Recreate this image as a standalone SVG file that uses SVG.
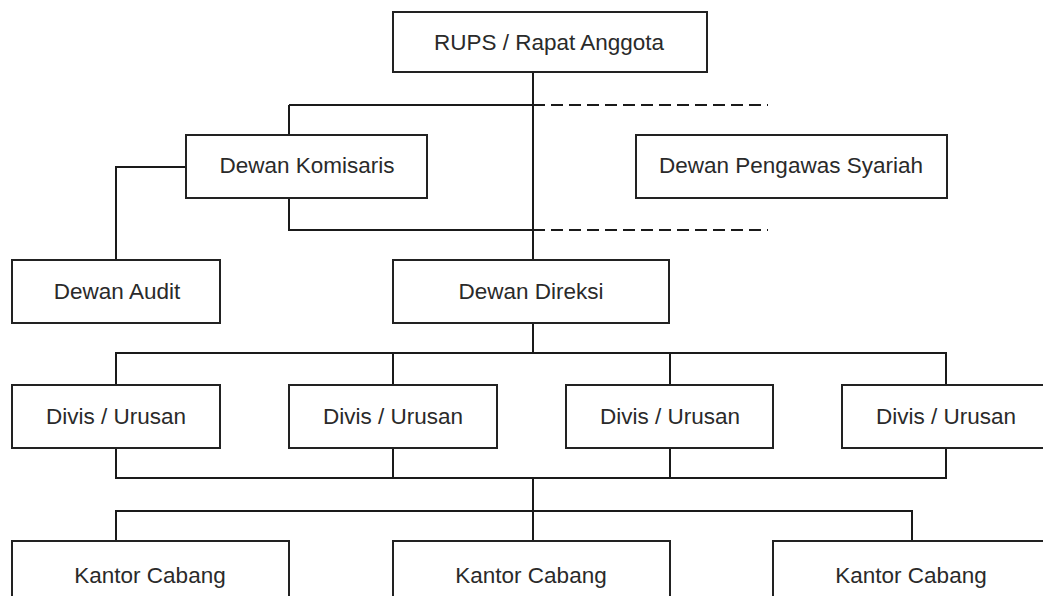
<svg xmlns="http://www.w3.org/2000/svg" width="1043" height="596" viewBox="0 0 1043 596">
<style>
.box{fill:#fff;stroke:#222;stroke-width:2}
.lbl{font-family:"Liberation Sans",Arial,sans-serif;font-size:22.5px;fill:#2a2a2a;text-anchor:middle}
.ln{fill:none;stroke:#1a1a1a;stroke-width:2}
.dash{fill:none;stroke:#1a1a1a;stroke-width:2;stroke-dasharray:12 6}
</style>
<rect width="1043" height="596" fill="#fff"/>
<g id="connectors">
<path class="ln" d="M533 72V260"/>
<path class="ln" d="M289 105H533M289 105V135"/>
<path class="dash" d="M533 105H768"/>
<path class="dash" d="M533 230H768"/>
<path class="ln" d="M289 198V230H533"/>
<path class="ln" d="M186 167H116V260"/>
<path class="ln" d="M533 323V353"/>
<path class="ln" d="M116 385V353H946V385M393 353V385M670 353V385"/>
<path class="ln" d="M116 448V478H946V448M393 448V478M670 448V478"/>
<path class="ln" d="M533 478V541"/>
<path class="ln" d="M116 541V511H912V541"/>
</g>
<g id="rups"><rect class="box" x="393" y="12" width="314" height="60"/><text class="lbl" x="549" y="50">RUPS / Rapat Anggota</text></g>
<g id="komisaris"><rect class="box" x="186" y="135" width="241" height="63"/><text class="lbl" x="307" y="173">Dewan Komisaris</text></g>
<g id="syariah"><rect class="box" x="636" y="135" width="311" height="63"/><text class="lbl" x="791" y="173">Dewan Pengawas Syariah</text></g>
<g id="audit"><rect class="box" x="12" y="260" width="208" height="63"/><text class="lbl" x="117" y="299">Dewan Audit</text></g>
<g id="direksi"><rect class="box" x="393" y="260" width="276" height="63"/><text class="lbl" x="531" y="299">Dewan Direksi</text></g>
<g id="divisi1"><rect class="box" x="12" y="385" width="208" height="63"/><text class="lbl" x="116" y="424">Divis / Urusan</text></g>
<g id="divisi2"><rect class="box" x="289" y="385" width="208" height="63"/><text class="lbl" x="393" y="424">Divis / Urusan</text></g>
<g id="divisi3"><rect class="box" x="566" y="385" width="207" height="63"/><text class="lbl" x="670" y="424">Divis / Urusan</text></g>
<g id="divisi4"><rect class="box" x="842" y="385" width="208" height="63"/><text class="lbl" x="946" y="424">Divis / Urusan</text></g>
<g id="kantor1"><rect class="box" x="12" y="541" width="277" height="80"/><text class="lbl" x="150" y="583">Kantor Cabang</text></g>
<g id="kantor2"><rect class="box" x="393" y="541" width="277" height="80"/><text class="lbl" x="531" y="583">Kantor Cabang</text></g>
<g id="kantor3"><rect class="box" x="773" y="541" width="277" height="80"/><text class="lbl" x="911" y="583">Kantor Cabang</text></g>
</svg>
